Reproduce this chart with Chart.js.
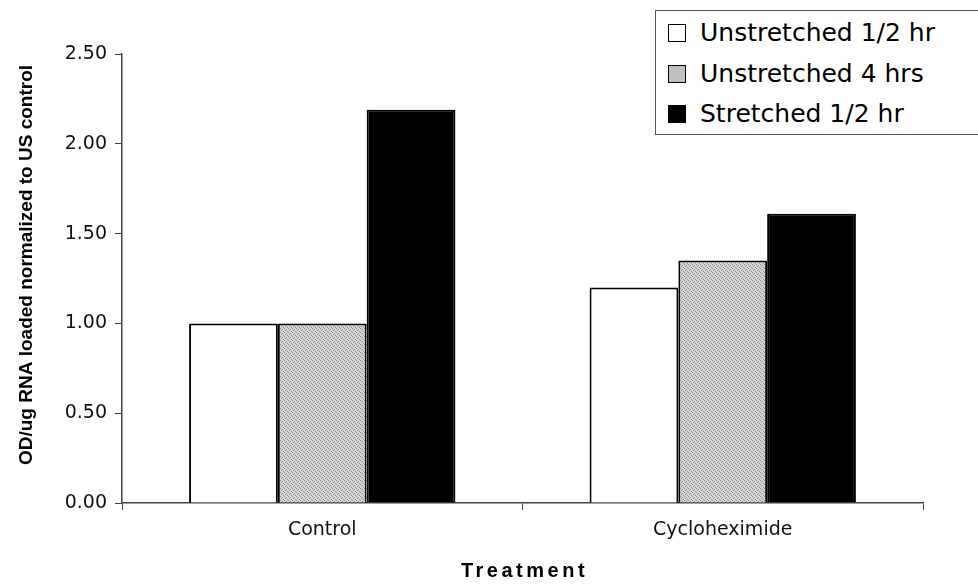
<!DOCTYPE html>
<html>
<head>
<meta charset="utf-8">
<script src="https://cdn.jsdelivr.net/npm/chart.js@4"></script>
<style>
  body { margin: 0; background: #fff; overflow: hidden; }
  #wrap { position: relative; width: 978px; height: 586px; }
  #legend {
    position: absolute; left: 655px; top: 10px; width: 340px; height: 125px;
    border: 1px solid #555; background: #fff; box-sizing: border-box;
    font-family: "DejaVu Sans", Arial, sans-serif; font-size: 25px; color: #000;
  }
  .item { position: absolute; left: 12px; height: 30px; line-height: 30px; white-space: nowrap; }
  .sw { display: inline-block; width: 18px; height: 18px; border: 1px solid #000; margin-right: 14px; vertical-align: -1px; box-sizing: border-box; }
</style>
</head>
<body>
<div id="wrap">
  <canvas id="chart" width="978" height="586"></canvas>
  <div id="legend"></div>
</div>
<script>
// ================= Data =================
const categories = ['Control', 'Cycloheximide'];
const seriesNames = ['Unstretched 1/2 hr', 'Unstretched 4 hrs', 'Stretched 1/2 hr'];
const unstretchedHalf = [1.00, 1.20];
const unstretchedFour = [1.00, 1.35];
const stretchedHalf = [2.19, 1.61];
const yTicks = [0, 0.5, 1.0, 1.5, 2.0, 2.5];
const xTitle = 'Treatment';
const yTitle = 'OD/ug RNA loaded normalized to US control';

// stippled grey fill like the scanned original
function makeStipple() {
    const c = document.createElement('canvas');
    c.width = 4; c.height = 4;
    const ctx = c.getContext('2d');
    ctx.fillStyle = '#d8d8d8';
    ctx.fillRect(0, 0, 4, 4);
    ctx.fillStyle = '#8a8a8a';
    [[0,0],[2,1],[1,2],[3,3]].forEach(p => ctx.fillRect(p[0], p[1], 1, 1));
    return document.getElementById('chart').getContext('2d').createPattern(c, 'repeat');
}

const fills = ['#ffffff', makeStipple(), '#000000'];
const swatchCss = ['#ffffff', '#c0c0c0', '#000000'];
const values = [unstretchedHalf, unstretchedFour, stretchedHalf];

// ================= Legend =================
const legend = document.getElementById('legend');
const rowTops = [7, 48, 88];
seriesNames.forEach((name, i) => {
    const d = document.createElement('div');
    d.className = 'item';
    d.style.top = rowTops[i] + 'px';
    d.innerHTML = `<span class="sw" style="background:${swatchCss[i]}"></span>${name}`;
    legend.appendChild(d);
});

// axis titles drawn by hand: x is letter-spaced, y sits a bit above centre
const axisTitles = {
    id: 'axisTitles',
    afterDraw(chart) {
        const ctx = chart.ctx;
        const area = chart.chartArea;
        ctx.save();
        ctx.fillStyle = '#000';
        ctx.textAlign = 'center';
        ctx.textBaseline = 'middle';
        ctx.font = 'bold 20px Arial, "Liberation Sans", sans-serif';
        ctx.letterSpacing = '3.5px';
        ctx.fillText(xTitle, (area.left + area.right) / 2 + 2, 571);
        ctx.letterSpacing = '0px';
        ctx.font = 'bold 19px Arial, "Liberation Sans", sans-serif';
        ctx.translate(27, 265);
        ctx.rotate(-Math.PI / 2);
        ctx.fillText(yTitle, 0, 0);
        ctx.restore();
    }
};

// ================= Chart =================
const tickFont = '"DejaVu Sans", Arial, sans-serif';
new Chart(document.getElementById('chart'), {
    type: 'bar',
    data: {
        labels: categories,
        datasets: seriesNames.map((name, i) => ({
            label: name,
            data: values[i],
            backgroundColor: fills[i],
            borderColor: '#000',
            borderWidth: 2,
            borderSkipped: 'bottom',
            barPercentage: 1.0,
            categoryPercentage: 0.665
        }))
    },
    plugins: [axisTitles],
    options: {
        responsive: false,
        animation: false,
        layout: { padding: { top: 54, right: 55, left: 0, bottom: 0 } },
        plugins: { legend: { display: false }, tooltip: { enabled: false } },
        scales: {
            x: {
                afterFit: s => { s.height = 83; },
                grid: { drawOnChartArea: false, offset: true, tickLength: 7, color: '#444' },
                border: { color: '#444', width: 1.5 },
                ticks: { color: '#111', font: { family: tickFont, size: 19 }, padding: 9 }
            },
            y: {
                min: 0, max: 2.5,
                afterFit: s => { s.width = 122; },
                afterBuildTicks: axis => { axis.ticks = yTicks.map(v => ({ value: v })); },
                grid: { drawOnChartArea: false, tickLength: 7, color: '#444' },
                border: { color: '#444', width: 1.5 },
                ticks: { color: '#111', font: { family: tickFont, size: 19 }, padding: 8, callback: v => Number(v).toFixed(2) }
            }
        }
    }
});
</script>
</body>
</html>
